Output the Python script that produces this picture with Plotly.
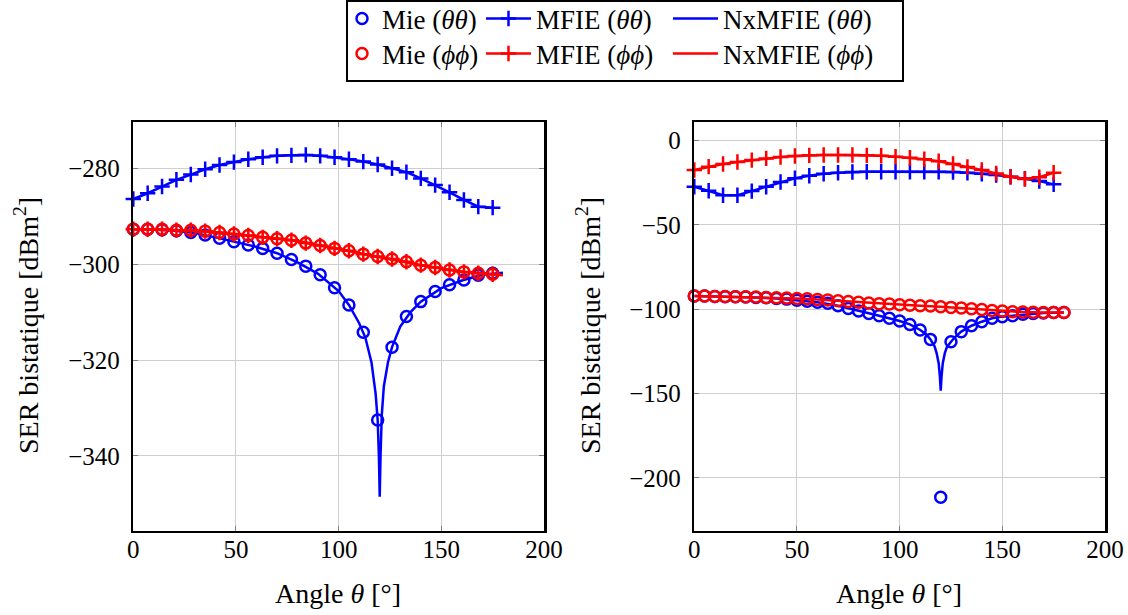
import plotly.graph_objects as go

W, H = 1128, 615

# ---------------- data ----------------
ang7 = [0, 7, 14, 21, 28, 35, 42, 49, 56, 63, 70, 77, 84, 91, 98, 105, 112,
        119, 126, 133, 140, 147, 154, 161, 168, 175]
ang5 = [0, 5, 10, 15, 20, 25, 30, 35, 40, 45, 50, 55, 60, 65, 70, 75, 80, 85,
        90, 95, 100, 105, 110, 115, 120, 125, 130, 135, 140, 145, 150, 155,
        160, 165, 170, 175, 180]

# Left panel
mie_tt_L = [-292.7, -292.7, -292.8, -293.0, -293.4, -293.9, -294.6, -295.3,
            -296.0, -296.7, -297.7, -299.0, -300.4, -302.2, -304.9, -308.5,
            -314.2, -332.5, -317.3, -310.9, -307.8, -305.7, -304.3, -303.3,
            -302.3, -301.9]
mie_pp_L = [-292.7, -292.7, -292.7, -292.9, -292.9, -293.1, -293.4, -293.7,
            -294.0, -294.4, -294.7, -295.0, -295.6, -296.1, -296.7, -297.2,
            -297.9, -298.4, -298.9, -299.5, -300.2, -300.7, -301.2, -301.6,
            -301.9, -302.1]
mfie_tt_L = [-286.4, -285.2, -283.8, -282.4, -281.3, -280.2, -279.3, -278.7,
             -278.1, -277.7, -277.4, -277.3, -277.2, -277.4, -277.7, -278.1,
             -278.6, -279.2, -280.0, -280.8, -282.1, -283.5, -285.0, -286.6,
             -288.0, -288.2]
mfie_pp_L = [-292.7, -292.7, -292.7, -292.9, -292.9, -293.1, -293.4, -293.7,
             -294.0, -294.4, -294.7, -295.0, -295.6, -296.1, -296.7, -297.2,
             -297.9, -298.4, -298.9, -299.5, -300.2, -300.7, -301.2, -301.6,
             -301.9, -302.1]
nx_tt_L_ang = [0, 10, 20, 30, 40, 50, 60, 70, 80, 90, 100, 105, 110, 113, 116,
               118, 119, 119.6, 120, 120.4, 121, 122, 124, 126, 130, 135, 140,
               150, 160, 170, 180]
nx_tt_L = [-292.7, -292.75, -293.0, -293.5, -294.4, -295.4, -296.4, -297.7,
           -299.6, -302.0, -305.6, -308.5, -312.3, -315.3, -320.5, -327.0,
           -332.5, -340.0, -348.5, -340.0, -331.5, -325.5, -320.5, -317.3,
           -313.0, -310.0, -307.8, -305.0, -303.4, -302.2, -301.8]
nx_pp_L_ang = [0, 10, 20, 30, 40, 50, 60, 70, 80, 90, 100, 110, 120, 130, 140,
               150, 160, 170, 180]
nx_pp_L = [-292.7, -292.7, -292.85, -293.0, -293.3, -293.75, -294.2, -294.7,
           -295.1, -296.0, -296.85, -297.7, -298.45, -299.25, -300.2, -300.9,
           -301.55, -301.95, -302.3]

# Right panel
mie_tt_R = [-92.2, -92.2, -92.4, -92.6, -92.6, -92.8, -93.0, -93.2, -93.6,
            -94.0, -94.6, -95.2, -95.8, -96.5, -97.9, -99.5, -101.1, -102.5,
            -103.9, -105.4, -107.0, -109.0, -112.3, -117.9, -211.6, -119.3,
            -113.3, -109.8, -107.4, -105.4, -104.4, -103.9, -103.0, -102.5,
            -102.2, -102.0, -102.0]
mie_pp_R = [-92.2, -92.2, -92.4, -92.4, -92.6, -92.6, -92.8, -93.0, -93.2,
            -93.4, -93.6, -93.8, -94.2, -94.5, -95.0, -95.4, -95.8, -96.3,
            -96.7, -96.9, -97.3, -97.7, -97.9, -98.1, -98.5, -98.9, -99.3,
            -99.7, -100.1, -100.7, -101.1, -101.5, -101.7, -101.8, -101.9,
            -101.9, -101.9]
mfie_tt_R = [-27.3, -29.7, -32.4, -32.4, -29.9, -27.3, -24.5, -22.3, -20.8,
             -19.6, -19.0, -18.6, -18.4, -18.4, -18.4, -18.4, -18.4, -18.4,
             -18.6, -19.0, -19.6, -20.4, -21.4, -22.5, -23.9, -25.9]
mfie_pp_R = [-17.4, -15.4, -13.8, -12.6, -11.5, -10.5, -9.7, -9.1, -8.7,
             -8.5, -8.5, -8.5, -8.7, -8.9, -9.5, -10.1, -11.0, -12.2, -13.8,
             -15.6, -17.4, -19.4, -21.4, -22.7, -21.7, -19.0]
nx_tt_R_ang = [0, 10, 20, 30, 40, 50, 60, 70, 80, 90, 100, 105, 110, 113, 115,
               117, 118, 119, 119.6, 120, 120.4, 121, 122, 123, 125, 127, 130,
               135, 140, 145, 150, 155, 160, 170, 180]
nx_tt_R = [-92.2, -92.4, -92.6, -93.0, -93.6, -94.6, -95.8, -97.9, -101.1,
           -103.9, -107.0, -109.0, -112.3, -115.0, -117.9, -122.0, -126.0,
           -132.0, -140.0, -148.4, -140.0, -132.0, -126.0, -122.5, -119.3,
           -116.5, -113.3, -109.8, -107.4, -105.4, -104.4, -103.9, -103.0,
           -102.2, -102.0]
nx_pp_R_ang = [0, 10, 20, 30, 40, 50, 60, 70, 80, 90, 100, 110, 120, 130, 140,
               150, 160, 170, 180]
nx_pp_R = [-92.2, -92.4, -92.6, -92.8, -93.2, -93.6, -94.2, -95.0, -95.8,
           -96.7, -97.3, -97.9, -98.5, -99.3, -100.1, -101.1, -101.7, -101.9,
           -101.9]

x_ticks = [0, 50, 100, 150, 200]
y_ticks_L = [-340, -320, -300, -280]
y_ticks_R = [-200, -150, -100, -50, 0]

names = ["Mie (<i>θθ</i>)", "MFIE (<i>θθ</i>)", "NxMFIE (<i>θθ</i>)",
         "Mie (<i>ϕϕ</i>)", "MFIE (<i>ϕϕ</i>)", "NxMFIE (<i>ϕϕ</i>)"]

# ---------------- styling ----------------
BLUE, RED = "#0000ff", "#ff0000"
FONT = "'Liberation Serif', 'Times New Roman', 'DejaVu Serif', serif"
LW = 2.5
LEGS = ["legend", "legend2", "legend3", "legend4", "legend5", "legend6"]

fig = go.Figure()


def panel(xa, ya, show, data):
    (mtt, mpp, ftt, fpp, ntt_a, ntt, npp_a, npp, mie_ang) = data
    specs = [
        (mie_ang, mtt, BLUE, "mie"),
        (ang7, ftt, BLUE, "mfie"),
        (ntt_a, ntt, BLUE, "nx"),
        (mie_ang, mpp, RED, "mie"),
        (ang7, fpp, RED, "mfie"),
        (npp_a, npp, RED, "nx"),
    ]
    for i, (x, y, c, kind) in enumerate(specs):
        kw = dict(x=x, y=y, name=names[i], xaxis=xa, yaxis=ya, legend=LEGS[i],
                  legendgroup=str(i), showlegend=show, cliponaxis=False,
                  hoverinfo="skip")
        if kind == "mie":
            fig.add_trace(go.Scatter(mode="markers",
                                     marker=dict(symbol="circle-open", size=11,
                                                 color=c, line=dict(width=LW, color=c)),
                                     **kw))
        elif kind == "mfie":
            fig.add_trace(go.Scatter(mode="lines+markers",
                                     line=dict(color=c, width=LW),
                                     marker=dict(symbol="cross-thin", size=11,
                                                 color=c, line=dict(width=LW, color=c)),
                                     **kw))
        else:
            fig.add_trace(go.Scatter(mode="lines",
                                     line=dict(color=c, width=LW), **kw))


panel("x", "y", True, (mie_tt_L, mie_pp_L, mfie_tt_L, mfie_pp_L,
                       nx_tt_L_ang, nx_tt_L, nx_pp_L_ang, nx_pp_L, ang7))
panel("x2", "y2", False, (mie_tt_R, mie_pp_R, mfie_tt_R, mfie_pp_R,
                          nx_tt_R_ang, nx_tt_R, nx_pp_R_ang, nx_pp_R, ang5))


# pixel helpers
def px(x):
    return x / W


def py(y):
    return 1 - y / H


top_px, bot_px = 122, 530.5
ydom = [py(bot_px), py(top_px)]

axis_common = dict(showline=True, linewidth=2.5, linecolor="black", mirror="ticks",
                   ticks="inside", ticklen=5, tickwidth=1, tickcolor="#808080",
                   showgrid=True, gridcolor="#cfcfcf", gridwidth=1, zeroline=False,
                   tickfont=dict(family=FONT, size=25, color="black"),
                   automargin=False)
xax = dict(axis_common, ticklabelstandoff=-5)
yax = dict(axis_common, ticklabelstandoff=6)

LEG_FONT = 27
leg_common = dict(xanchor="left", yanchor="middle", orientation="v",
                  bgcolor="rgba(0,0,0,0)", tracegroupgap=0,
                  font=dict(family=FONT, size=LEG_FONT, color="black"))
col_x = [342, 481, 668]
row_y = [19, 54]
itemw = [30, 45, 45]
legends = {}
for i, name in enumerate(LEGS):
    r, c = divmod(i, 3)
    legends[name] = dict(x=px(col_x[c]), y=py(row_y[r]), itemwidth=itemw[c],
                         **leg_common)

TITLE_FONT = 28
fig.update_layout(
    width=W, height=H,
    margin=dict(l=0, r=0, t=0, b=0, autoexpand=False),
    paper_bgcolor="white", plot_bgcolor="white",
    font=dict(family=FONT, size=24, color="black"),
    showlegend=True,
    hovermode=False,
    xaxis=dict(domain=[px(133.3), px(544)], range=[0, 200], tickvals=x_ticks,
               anchor="y", **xax),
    yaxis=dict(domain=ydom, range=[-355.54, -270.34], tickvals=y_ticks_L,
               anchor="x", **yax),
    xaxis2=dict(domain=[px(694.3), px(1105)], range=[0, 200], tickvals=x_ticks,
                anchor="y2", **xax),
    yaxis2=dict(domain=ydom, range=[-231.3, 11.1], tickvals=y_ticks_R,
                anchor="x2", **yax),
    shapes=[dict(type="rect", xref="paper", yref="paper",
                 x0=px(347), x1=px(903), y0=py(81), y1=py(1),
                 line=dict(color="black", width=2))],
    annotations=[
        dict(text="SER bistatique [dBm<sup>2</sup>]", textangle=-90,
             x=px(27), y=py(326), xref="paper", yref="paper",
             xanchor="center", yanchor="middle",
             showarrow=False, font=dict(family=FONT, size=TITLE_FONT)),
        dict(text="SER bistatique [dBm<sup>2</sup>]", textangle=-90,
             x=px(589), y=py(326), xref="paper", yref="paper",
             xanchor="center", yanchor="middle",
             showarrow=False, font=dict(family=FONT, size=TITLE_FONT)),
        dict(text="Angle <i>θ</i> [°]", x=px(338), y=py(593),
             xref="paper", yref="paper", showarrow=False,
             xanchor="center", yanchor="middle",
             font=dict(family=FONT, size=TITLE_FONT)),
        dict(text="Angle <i>θ</i> [°]", x=px(899), y=py(593),
             xref="paper", yref="paper", showarrow=False,
             xanchor="center", yanchor="middle",
             font=dict(family=FONT, size=TITLE_FONT)),
    ],
    **legends,
)

fig.write_html("out.html",
               config={"displayModeBar": False, "staticPlot": True},
               post_script="document.body.style.margin='0';"
                           "document.body.style.overflow='hidden';")
